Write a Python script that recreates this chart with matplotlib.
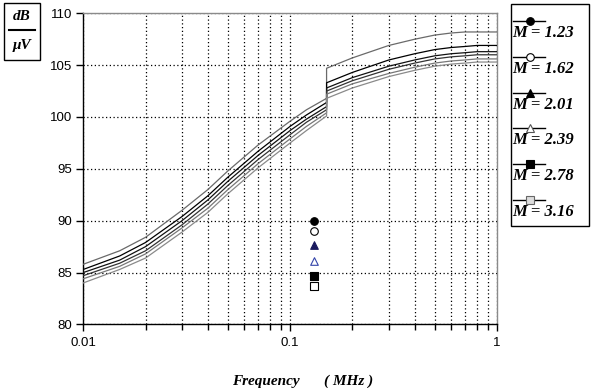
import matplotlib
matplotlib.use("Agg")
import matplotlib.pyplot as plt
from matplotlib.lines import Line2D
from matplotlib.patches import Rectangle
from matplotlib.ticker import LogLocator, FixedLocator, NullFormatter

# ---- data ----
freq_lo = [0.01, 0.015, 0.02, 0.03, 0.04, 0.05, 0.07, 0.1, 0.12, 0.15]
freq_hi = [0.15, 0.2, 0.3, 0.4, 0.5, 0.6, 0.7, 0.8, 0.9, 1.0]

m_labels = ["M = 1.23", "M = 1.62", "M = 2.01", "M = 2.39", "M = 2.78", "M = 3.16"]

lo_123 = [85.8, 87.1, 88.4, 91.0, 93.0, 94.8, 97.3, 99.6, 100.7, 101.8]
lo_162 = [85.3, 86.6, 87.9, 90.4, 92.4, 94.2, 96.7, 99.1, 100.2, 101.4]
lo_201 = [85.0, 86.2, 87.5, 90.0, 92.0, 93.8, 96.3, 98.7, 99.8, 101.0]
lo_239 = [84.7, 85.9, 87.1, 89.6, 91.6, 93.4, 95.9, 98.3, 99.5, 100.7]
lo_278 = [84.4, 85.6, 86.8, 89.3, 91.2, 93.0, 95.5, 97.9, 99.1, 100.4]
lo_316 = [84.0, 85.3, 86.4, 88.9, 90.8, 92.6, 95.1, 97.5, 98.7, 100.1]

hi_123 = [104.7, 105.7, 106.9, 107.5, 107.9, 108.1, 108.2, 108.2, 108.2, 108.2]
hi_162 = [103.3, 104.3, 105.5, 106.1, 106.5, 106.7, 106.8, 106.9, 106.9, 106.9]
hi_201 = [102.8, 103.8, 104.9, 105.5, 105.9, 106.1, 106.2, 106.3, 106.3, 106.3]
hi_239 = [102.5, 103.5, 104.6, 105.2, 105.6, 105.8, 105.9, 106.0, 106.0, 106.0]
hi_278 = [102.2, 103.2, 104.2, 104.8, 105.2, 105.4, 105.5, 105.6, 105.6, 105.6]
hi_316 = [101.8, 102.8, 103.9, 104.5, 104.9, 105.1, 105.2, 105.3, 105.3, 105.3]

# stray marker points inside the plot
pt_freq = [0.13, 0.13, 0.13, 0.13, 0.13, 0.13]
pt_vals = [90.0, 89.0, 87.7, 86.1, 84.7, 83.7]

x_ticks = [0.01, 0.1, 1]
x_ticklabels = ["0.01", "0.1", "1"]
y_ticks = [80, 85, 90, 95, 100, 105, 110]

# ---- style ----
line_colors = ["#6a6a6a", "#000000", "#111111", "#333333", "#777777", "#8a8a8a"]
mk = ["o", "o", "^", "^", "s", "s"]
mk_face = ["black", "white", "black", "white", "black", "#dddddd"]
mk_edge = ["black", "black", "black", "#555555", "black", "#666666"]
pt_face = ["black", "white", "#1a1a5e", "white", "black", "white"]
pt_edge = ["black", "black", "#1a1a5e", "#3344aa", "black", "black"]

W, H = 591, 388
fig = plt.figure(figsize=(W / 100, H / 100), dpi=100)
ax = fig.add_axes([83.3 / W, 1 - 324.4 / H, (497 - 83.3) / W, (324.4 - 13.3) / H])

lo_all = [lo_123, lo_162, lo_201, lo_239, lo_278, lo_316]
hi_all = [hi_123, hi_162, hi_201, hi_239, hi_278, hi_316]
for i in range(6):
    xs = freq_lo + freq_hi
    ys = lo_all[i] + hi_all[i]
    ax.plot(xs, ys, color=line_colors[i], lw=0.9, zorder=3)

for i in range(6):
    ax.scatter([pt_freq[i]], [pt_vals[i]], marker=mk[i], s=30 if mk[i] != "s" else 26,
               facecolor=pt_face[i], edgecolor=pt_edge[i], linewidths=0.8, zorder=4)

ax.set_xscale("log")
ax.set_xlim(0.01, 1)
ax.set_ylim(80, 110)
ax.xaxis.set_major_locator(FixedLocator(x_ticks))
ax.set_xticklabels(x_ticklabels)
ax.xaxis.set_minor_locator(LogLocator(base=10, subs=range(2, 10)))
ax.xaxis.set_minor_formatter(NullFormatter())
ax.set_yticks(y_ticks)
ax.tick_params(axis="both", which="both", direction="out", labelsize=9.5,
               colors="black", labelcolor="black")
ax.tick_params(axis="x", which="major", length=5, width=1, pad=4)
ax.tick_params(axis="x", which="minor", length=4, width=1)
ax.tick_params(axis="y", which="major", length=5, width=1, pad=3)
for lab in ax.get_xticklabels() + ax.get_yticklabels():
    lab.set_family("Liberation Sans")

ax.grid(True, which="both", axis="x", color="black", lw=0.9, ls=(0, (1, 2)))
ax.grid(True, which="major", axis="y", color="black", lw=0.9, ls=(0, (1, 2)))
ax.set_axisbelow(True)
for s in ["left", "bottom"]:
    ax.spines[s].set_color("black")
    ax.spines[s].set_linewidth(1)
for s in ["top", "right"]:
    ax.spines[s].set_color("#8a8a8a")
    ax.spines[s].set_linewidth(1)

serif = dict(family="Liberation Serif", weight="bold", style="italic")

# x axis label
fig.text(266 / W, 1 - 381 / H, "Frequency", ha="center", va="center", fontsize=11, **serif)
fig.text(349 / W, 1 - 381 / H, "( MHz )", ha="center", va="center", fontsize=11, **serif)

# y axis unit box
fig.patches.append(Rectangle((4 / W, 1 - 60 / H), 36 / W, 57 / H, transform=fig.transFigure,
                             fill=False, edgecolor="black", lw=1))
fig.text(22 / W, 1 - 16 / H, "dB", ha="center", va="center", fontsize=11, **serif)
fig.lines.append(Line2D([9 / W, 35 / W], [1 - 30 / H, 1 - 30 / H], transform=fig.transFigure,
                        color="black", lw=1.5))
fig.text(22 / W, 1 - 45 / H, "\u03bcV", ha="center", va="center", fontsize=11, **serif)

# legend box (drawn manually to match the stacked layout)
fig.patches.append(Rectangle((511 / W, 1 - 226 / H), 78 / W, 222 / H, transform=fig.transFigure,
                             fill=False, edgecolor="black", lw=1))
for i in range(6):
    yh = 21 + 35.8 * i
    yt = 33 + 35.8 * i
    fig.lines.append(Line2D([513 / W, 545 / W], [1 - yh / H, 1 - yh / H], transform=fig.transFigure,
                            color="black", lw=1))
    fig.lines.append(Line2D([530 / W], [1 - yh / H], transform=fig.transFigure, marker=mk[i],
                            markersize=5.5, markerfacecolor=mk_face[i], markeredgecolor=mk_edge[i],
                            markeredgewidth=0.8, ls="none"))
    fig.text(512 / W, 1 - yt / H, m_labels[i], ha="left", va="center", fontsize=12, **serif)

fig.savefig("out.png", dpi=100)
